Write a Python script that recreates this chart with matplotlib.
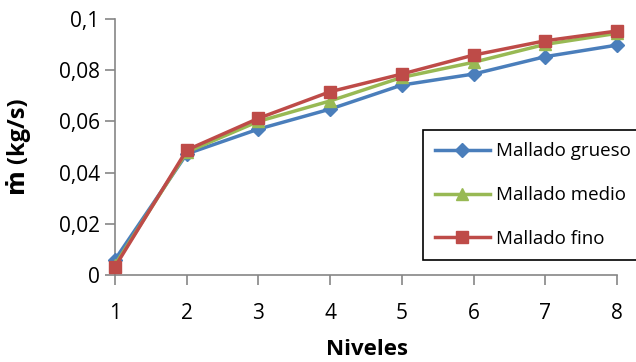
import matplotlib
matplotlib.use("Agg")
import matplotlib.pyplot as plt

plt.rcParams['font.family'] = ['Open Sans', 'DejaVu Sans']

niveles = [1, 2, 3, 4, 5, 6, 7, 8]
grueso = [0.006, 0.0473, 0.0570, 0.0648, 0.0742, 0.0785, 0.0853, 0.0898]
medio = [0.004, 0.0480, 0.0600, 0.0680, 0.0772, 0.0831, 0.0901, 0.0944]
fino = [0.0032, 0.0488, 0.0612, 0.0716, 0.0785, 0.0859, 0.0915, 0.0953]
y_ticks = [0, 0.02, 0.04, 0.06, 0.08, 0.1]
y_labels = ["0", "0,02", "0,04", "0,06", "0,08", "0,1"]

fig = plt.figure(figsize=(6.36, 3.62), dpi=100)
ax = fig.add_axes([115/636, 1-275/362, (617-115)/636, (275-19)/362])

ax.plot(niveles, grueso, color='#4A7EBB', lw=2.5, marker='D', ms=7,
        label='Mallado grueso', clip_on=False, zorder=3)
ax.plot(niveles, medio, color='#98B954', lw=2.5, marker='^', ms=9,
        label='Mallado medio', clip_on=False, zorder=4)
ax.plot(niveles, fino, color='#BE4B48', lw=2.5, marker='s', ms=9,
        label='Mallado fino', clip_on=False, zorder=5)

ax.set_xlim(1, 8)
ax.set_ylim(0, 0.1)
ax.set_xticks(niveles)
ax.set_yticks(y_ticks)
ax.set_yticklabels(y_labels)

for s in ('top', 'right'):
    ax.spines[s].set_visible(False)
for s in ('left', 'bottom'):
    ax.spines[s].set_color('#868686')
    ax.spines[s].set_linewidth(1.2)
ax.tick_params(axis='both', colors='#868686', labelcolor='black',
               labelsize=15, width=1.2, length=7)
ax.tick_params(axis='x', pad=13)
ax.tick_params(axis='y', pad=4)

ax.set_xlabel('Niveles', fontsize=16, fontweight='bold')
ax.xaxis.set_label_coords((367-115)/502, (275-339)/256)
ax.set_ylabel('ṁ (kg/s)', fontsize=17, fontweight='bold', labelpad=20)

leg = fig.legend(loc='upper left', bbox_to_anchor=(423/636, 1-130/362),
                 fontsize=13.5, frameon=True, fancybox=False,
                 edgecolor='black', framealpha=1, handlelength=2.9,
                 labelspacing=1.38, borderpad=0.65, borderaxespad=0,
                 handletextpad=0.35)
leg.get_frame().set_linewidth(1.2)

fig.savefig('out.png', dpi=100)
